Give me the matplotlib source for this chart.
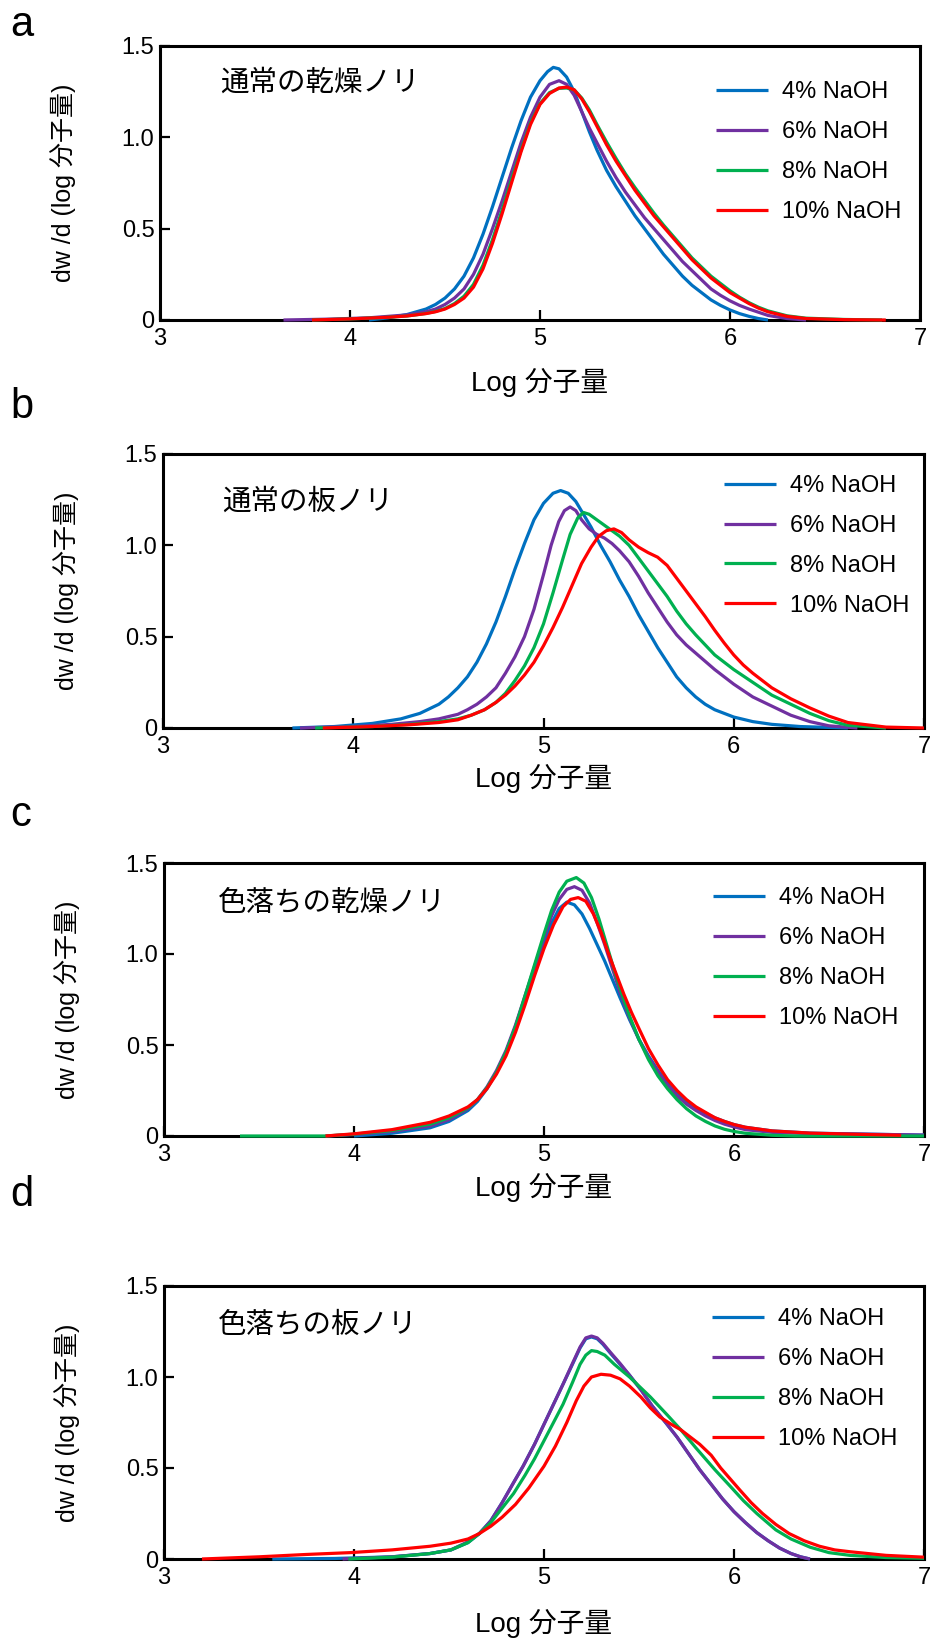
import matplotlib
matplotlib.use("Agg")
import matplotlib.pyplot as plt

plt.rcParams['font.family'] = ['Liberation Sans', 'Noto Sans CJK JP']

# ---- data (x = Log molecular weight, y = dw/d(log M)) ----
labels = ["4% NaOH", "6% NaOH", "8% NaOH", "10% NaOH"]
colors = ["#0070C0", "#7030A0", "#00B050", "#FF0000"]
panel_letters = ["a", "b", "c", "d"]
panel_titles = ["通常の乾燥ノリ", "通常の板ノリ", "色落ちの乾燥ノリ", "色落ちの板ノリ"]
x_ticks = [3, 4, 5, 6, 7]
y_ticks = [0, 0.5, 1.0, 1.5]
y_tick_labels = ["0", "0.5", "1.0", "1.5"]

# panel a
a_x4 = [4.10, 4.20, 4.30, 4.40, 4.45, 4.50, 4.55, 4.60, 4.65, 4.70, 4.75, 4.80, 4.85, 4.90, 4.95, 5.00, 5.04, 5.07, 5.10, 5.14, 5.18, 5.22, 5.26, 5.30, 5.35, 5.40, 5.45, 5.50, 5.55, 5.60, 5.65, 5.70, 5.75, 5.80, 5.85, 5.90, 5.95, 6.00, 6.05, 6.10, 6.15, 6.20]
a_y4 = [0.00, 0.012, 0.03, 0.06, 0.085, 0.12, 0.17, 0.24, 0.34, 0.47, 0.62, 0.78, 0.94, 1.09, 1.22, 1.31, 1.36, 1.383, 1.375, 1.33, 1.25, 1.14, 1.03, 0.93, 0.82, 0.73, 0.65, 0.57, 0.50, 0.43, 0.36, 0.30, 0.24, 0.19, 0.15, 0.11, 0.08, 0.055, 0.035, 0.02, 0.008, 0.00]
a_x6 = [3.65, 3.90, 4.10, 4.30, 4.40, 4.45, 4.50, 4.55, 4.60, 4.65, 4.70, 4.75, 4.80, 4.85, 4.90, 4.95, 5.00, 5.05, 5.10, 5.14, 5.18, 5.22, 5.26, 5.30, 5.35, 5.40, 5.45, 5.50, 5.55, 5.60, 5.65, 5.70, 5.75, 5.80, 5.85, 5.90, 5.95, 6.00, 6.05, 6.10, 6.20, 6.30, 6.40]
a_y6 = [0.00, 0.005, 0.012, 0.028, 0.045, 0.06, 0.085, 0.12, 0.17, 0.25, 0.36, 0.50, 0.65, 0.81, 0.97, 1.11, 1.22, 1.29, 1.31, 1.29, 1.23, 1.14, 1.05, 0.97, 0.87, 0.78, 0.70, 0.63, 0.56, 0.50, 0.44, 0.38, 0.32, 0.27, 0.22, 0.17, 0.135, 0.105, 0.08, 0.06, 0.025, 0.008, 0.00]
a_x8 = [3.80, 4.00, 4.20, 4.30, 4.40, 4.45, 4.50, 4.55, 4.60, 4.65, 4.70, 4.75, 4.80, 4.85, 4.90, 4.95, 5.00, 5.05, 5.10, 5.14, 5.18, 5.22, 5.26, 5.30, 5.35, 5.40, 5.45, 5.50, 5.55, 5.60, 5.65, 5.70, 5.75, 5.80, 5.85, 5.90, 5.95, 6.00, 6.05, 6.10, 6.15, 6.20, 6.30, 6.40, 6.60, 6.80]
a_y8 = [0.00, 0.006, 0.015, 0.022, 0.036, 0.047, 0.063, 0.09, 0.13, 0.195, 0.30, 0.44, 0.60, 0.77, 0.93, 1.08, 1.185, 1.245, 1.268, 1.27, 1.26, 1.215, 1.15, 1.07, 0.975, 0.885, 0.80, 0.725, 0.655, 0.585, 0.52, 0.46, 0.40, 0.34, 0.29, 0.24, 0.20, 0.16, 0.125, 0.095, 0.07, 0.05, 0.023, 0.01, 0.003, 0.00]
a_x10 = [3.80, 4.00, 4.20, 4.30, 4.40, 4.45, 4.50, 4.55, 4.60, 4.65, 4.70, 4.75, 4.80, 4.85, 4.90, 4.95, 5.00, 5.05, 5.10, 5.14, 5.18, 5.22, 5.26, 5.30, 5.35, 5.40, 5.45, 5.50, 5.55, 5.60, 5.65, 5.70, 5.75, 5.80, 5.85, 5.90, 5.95, 6.00, 6.05, 6.10, 6.15, 6.20, 6.30, 6.40, 6.60, 6.82]
a_y10 = [0.00, 0.006, 0.015, 0.022, 0.035, 0.045, 0.06, 0.085, 0.12, 0.18, 0.28, 0.42, 0.58, 0.75, 0.92, 1.07, 1.18, 1.24, 1.27, 1.275, 1.26, 1.21, 1.14, 1.06, 0.96, 0.87, 0.79, 0.71, 0.64, 0.57, 0.51, 0.45, 0.39, 0.33, 0.28, 0.23, 0.19, 0.15, 0.12, 0.09, 0.065, 0.045, 0.02, 0.008, 0.002, 0.00]

# panel b
b_x4 = [3.68, 3.90, 4.10, 4.25, 4.35, 4.45, 4.50, 4.55, 4.60, 4.65, 4.70, 4.75, 4.80, 4.85, 4.90, 4.95, 5.00, 5.05, 5.09, 5.13, 5.17, 5.21, 5.25, 5.30, 5.35, 5.40, 5.45, 5.50, 5.55, 5.60, 5.65, 5.70, 5.75, 5.80, 5.85, 5.90, 6.00, 6.10, 6.20, 6.35, 6.60]
b_y4 = [0.00, 0.008, 0.025, 0.05, 0.08, 0.13, 0.17, 0.22, 0.28, 0.36, 0.46, 0.58, 0.72, 0.87, 1.01, 1.14, 1.23, 1.285, 1.30, 1.285, 1.24, 1.17, 1.10, 1.00, 0.91, 0.81, 0.72, 0.62, 0.53, 0.44, 0.36, 0.28, 0.22, 0.17, 0.13, 0.10, 0.06, 0.035, 0.02, 0.008, 0.00]
b_x6 = [3.72, 4.00, 4.20, 4.35, 4.45, 4.55, 4.60, 4.65, 4.70, 4.75, 4.80, 4.85, 4.90, 4.95, 5.00, 5.04, 5.08, 5.11, 5.14, 5.17, 5.20, 5.24, 5.28, 5.32, 5.36, 5.40, 5.45, 5.50, 5.55, 5.60, 5.65, 5.70, 5.75, 5.80, 5.90, 6.00, 6.10, 6.20, 6.30, 6.40, 6.50, 6.65]
b_y6 = [0.00, 0.008, 0.02, 0.035, 0.05, 0.075, 0.10, 0.13, 0.17, 0.22, 0.30, 0.39, 0.50, 0.65, 0.84, 1.00, 1.13, 1.19, 1.21, 1.19, 1.14, 1.09, 1.06, 1.04, 1.01, 0.97, 0.91, 0.83, 0.74, 0.66, 0.58, 0.51, 0.455, 0.41, 0.32, 0.24, 0.17, 0.12, 0.07, 0.035, 0.012, 0.00]
b_x8 = [3.80, 4.10, 4.30, 4.45, 4.55, 4.62, 4.69, 4.75, 4.80, 4.85, 4.90, 4.95, 5.00, 5.05, 5.10, 5.14, 5.18, 5.21, 5.24, 5.28, 5.32, 5.36, 5.40, 5.45, 5.50, 5.55, 5.60, 5.65, 5.70, 5.75, 5.80, 5.85, 5.90, 6.00, 6.10, 6.20, 6.30, 6.40, 6.50, 6.60, 6.80]
b_y8 = [0.00, 0.008, 0.02, 0.035, 0.05, 0.07, 0.10, 0.14, 0.19, 0.26, 0.34, 0.44, 0.57, 0.74, 0.92, 1.06, 1.15, 1.18, 1.17, 1.14, 1.11, 1.08, 1.05, 1.00, 0.93, 0.86, 0.79, 0.72, 0.64, 0.57, 0.51, 0.455, 0.40, 0.32, 0.25, 0.18, 0.13, 0.08, 0.04, 0.015, 0.00]
b_x10 = [3.84, 4.10, 4.30, 4.45, 4.55, 4.62, 4.69, 4.75, 4.80, 4.85, 4.90, 4.95, 5.00, 5.05, 5.10, 5.15, 5.20, 5.25, 5.29, 5.33, 5.37, 5.41, 5.45, 5.50, 5.55, 5.60, 5.65, 5.70, 5.75, 5.80, 5.85, 5.90, 5.95, 6.00, 6.05, 6.10, 6.20, 6.30, 6.40, 6.50, 6.60, 6.80, 7.00]
b_y10 = [0.00, 0.008, 0.018, 0.03, 0.045, 0.07, 0.10, 0.14, 0.18, 0.23, 0.29, 0.36, 0.45, 0.55, 0.66, 0.78, 0.90, 0.99, 1.05, 1.08, 1.09, 1.07, 1.03, 0.99, 0.96, 0.935, 0.89, 0.82, 0.75, 0.68, 0.61, 0.535, 0.465, 0.40, 0.345, 0.30, 0.22, 0.16, 0.11, 0.065, 0.03, 0.005, 0.00]

# panel c
c_x4 = [4.00, 4.20, 4.40, 4.50, 4.60, 4.65, 4.70, 4.75, 4.80, 4.85, 4.90, 4.95, 5.00, 5.04, 5.08, 5.12, 5.16, 5.20, 5.24, 5.28, 5.32, 5.36, 5.40, 5.45, 5.50, 5.55, 5.60, 5.65, 5.70, 5.75, 5.80, 5.85, 5.90, 5.95, 6.00, 6.06, 6.20, 6.40, 6.70, 7.00]
c_y4 = [0.00, 0.015, 0.045, 0.08, 0.14, 0.19, 0.26, 0.35, 0.46, 0.60, 0.76, 0.91, 1.06, 1.17, 1.25, 1.285, 1.27, 1.22, 1.14, 1.05, 0.96, 0.86, 0.76, 0.64, 0.53, 0.44, 0.36, 0.29, 0.235, 0.19, 0.155, 0.125, 0.10, 0.08, 0.063, 0.048, 0.028, 0.016, 0.01, 0.005]
c_x6 = [3.85, 4.00, 4.20, 4.40, 4.50, 4.60, 4.65, 4.70, 4.75, 4.80, 4.85, 4.90, 4.95, 5.00, 5.04, 5.08, 5.12, 5.16, 5.20, 5.24, 5.28, 5.32, 5.36, 5.40, 5.45, 5.50, 5.55, 5.60, 5.65, 5.70, 5.75, 5.80, 5.85, 5.90, 5.95, 6.00, 6.06, 6.20, 6.40, 6.70, 7.00]
c_y6 = [0.00, 0.008, 0.025, 0.055, 0.09, 0.15, 0.20, 0.27, 0.36, 0.47, 0.61, 0.77, 0.93, 1.09, 1.21, 1.30, 1.355, 1.37, 1.35, 1.28, 1.17, 1.05, 0.92, 0.79, 0.65, 0.53, 0.43, 0.35, 0.28, 0.22, 0.175, 0.14, 0.11, 0.085, 0.065, 0.05, 0.035, 0.02, 0.013, 0.01, 0.005]
c_x8 = [3.40, 3.85, 4.00, 4.20, 4.40, 4.50, 4.60, 4.65, 4.70, 4.75, 4.80, 4.85, 4.90, 4.95, 5.00, 5.04, 5.08, 5.12, 5.17, 5.21, 5.25, 5.29, 5.33, 5.37, 5.41, 5.45, 5.50, 5.55, 5.60, 5.65, 5.70, 5.75, 5.80, 5.85, 5.90, 5.95, 6.00, 6.06, 6.20, 6.32, 7.00]
c_y8 = [0.00, 0.00, 0.01, 0.03, 0.065, 0.10, 0.155, 0.20, 0.265, 0.35, 0.46, 0.60, 0.77, 0.94, 1.11, 1.24, 1.34, 1.40, 1.42, 1.39, 1.31, 1.19, 1.05, 0.91, 0.78, 0.66, 0.53, 0.42, 0.33, 0.26, 0.20, 0.15, 0.11, 0.08, 0.055, 0.037, 0.025, 0.015, 0.004, 0.00, 0.00]
c_x10 = [3.85, 4.00, 4.20, 4.40, 4.50, 4.60, 4.65, 4.70, 4.75, 4.80, 4.85, 4.90, 4.95, 5.00, 5.05, 5.10, 5.14, 5.18, 5.22, 5.26, 5.30, 5.34, 5.38, 5.42, 5.46, 5.50, 5.55, 5.60, 5.65, 5.70, 5.75, 5.80, 5.85, 5.90, 5.95, 6.00, 6.06, 6.20, 6.40, 6.70, 6.88]
c_y10 = [0.00, 0.012, 0.035, 0.075, 0.11, 0.16, 0.20, 0.26, 0.34, 0.44, 0.57, 0.72, 0.88, 1.03, 1.16, 1.26, 1.30, 1.31, 1.29, 1.22, 1.12, 1.00, 0.89, 0.78, 0.68, 0.59, 0.48, 0.39, 0.31, 0.25, 0.20, 0.16, 0.13, 0.10, 0.08, 0.063, 0.048, 0.028, 0.016, 0.008, 0.004]

# panel d
d_x4 = [3.57, 3.90, 4.20, 4.40, 4.51, 4.60, 4.66, 4.72, 4.78, 4.84, 4.89, 4.95, 5.00, 5.05, 5.10, 5.15, 5.19, 5.22, 5.25, 5.28, 5.31, 5.35, 5.40, 5.45, 5.51, 5.57, 5.64, 5.70, 5.76, 5.82, 5.88, 5.94, 6.00, 6.06, 6.12, 6.18, 6.24, 6.30, 6.35, 6.40]
d_y4 = [0.00, 0.003, 0.012, 0.03, 0.05, 0.09, 0.14, 0.21, 0.31, 0.42, 0.51, 0.63, 0.74, 0.85, 0.96, 1.07, 1.16, 1.21, 1.22, 1.21, 1.18, 1.13, 1.07, 1.01, 0.93, 0.84, 0.75, 0.67, 0.58, 0.49, 0.41, 0.33, 0.26, 0.20, 0.145, 0.10, 0.06, 0.03, 0.012, 0.00]
d_x6 = [3.94, 4.20, 4.40, 4.51, 4.60, 4.66, 4.72, 4.78, 4.84, 4.89, 4.95, 5.00, 5.05, 5.10, 5.15, 5.19, 5.22, 5.25, 5.28, 5.31, 5.35, 5.40, 5.45, 5.51, 5.57, 5.64, 5.70, 5.76, 5.82, 5.88, 5.94, 6.00, 6.06, 6.12, 6.18, 6.24, 6.30, 6.35, 6.40]
d_y6 = [0.00, 0.012, 0.03, 0.05, 0.095, 0.14, 0.21, 0.31, 0.42, 0.51, 0.63, 0.74, 0.85, 0.96, 1.075, 1.165, 1.215, 1.225, 1.215, 1.185, 1.135, 1.075, 1.01, 0.93, 0.84, 0.75, 0.67, 0.58, 0.49, 0.41, 0.33, 0.26, 0.20, 0.145, 0.10, 0.06, 0.03, 0.012, 0.00]
d_x8 = [3.97, 4.20, 4.40, 4.51, 4.60, 4.66, 4.72, 4.78, 4.84, 4.90, 4.95, 5.00, 5.05, 5.10, 5.15, 5.19, 5.22, 5.25, 5.28, 5.32, 5.37, 5.45, 5.56, 5.65, 5.72, 5.80, 5.90, 5.98, 6.05, 6.12, 6.22, 6.30, 6.40, 6.50, 6.61, 6.80, 7.00]
d_y8 = [0.00, 0.01, 0.03, 0.05, 0.09, 0.14, 0.20, 0.28, 0.36, 0.46, 0.55, 0.65, 0.75, 0.85, 0.97, 1.07, 1.12, 1.145, 1.14, 1.12, 1.07, 1.00, 0.89, 0.79, 0.71, 0.61, 0.49, 0.40, 0.32, 0.25, 0.16, 0.11, 0.065, 0.035, 0.02, 0.008, 0.004]
d_x10 = [3.20, 3.50, 3.75, 3.98, 4.20, 4.40, 4.51, 4.60, 4.66, 4.72, 4.78, 4.85, 4.92, 5.00, 5.06, 5.12, 5.17, 5.21, 5.25, 5.30, 5.35, 5.40, 5.45, 5.51, 5.56, 5.61, 5.67, 5.72, 5.77, 5.82, 5.88, 5.93, 5.98, 6.03, 6.09, 6.15, 6.22, 6.29, 6.37, 6.45, 6.53, 6.61, 6.80, 7.00]
d_y10 = [0.00, 0.012, 0.025, 0.035, 0.05, 0.07, 0.087, 0.11, 0.14, 0.18, 0.23, 0.30, 0.39, 0.51, 0.62, 0.75, 0.87, 0.95, 1.00, 1.015, 1.01, 0.99, 0.95, 0.89, 0.83, 0.78, 0.74, 0.71, 0.67, 0.63, 0.57, 0.50, 0.44, 0.38, 0.31, 0.25, 0.19, 0.14, 0.10, 0.07, 0.05, 0.04, 0.02, 0.01]

series = [
    [(a_x4, a_y4), (a_x6, a_y6), (a_x8, a_y8), (a_x10, a_y10)],
    [(b_x4, b_y4), (b_x6, b_y6), (b_x8, b_y8), (b_x10, b_y10)],
    [(c_x4, c_y4), (c_x6, c_y6), (c_x8, c_y8), (c_x10, c_y10)],
    [(d_x4, d_y4), (d_x6, d_y6), (d_x8, d_y8), (d_x10, d_y10)],
]

# ---- layout (pixel boxes of the reference, 933 x 1639) ----
W, H = 933, 1639
boxes = [(160, 46, 920, 320), (163, 454, 924, 728), (164, 863, 924, 1136), (164, 1286, 924, 1559)]
letter_y = [36, 418, 826, 1206]
title_pos = [(0.079, 0.865), (0.078, 0.825), (0.071, 0.854), (0.071, 0.857)]
legend_pos = [(0.732, 0.872), (0.737, 0.924), (0.722, 0.912), (0.721, 0.918)]
xlabel_off = [62, 50, 51, 64]

fig = plt.figure(figsize=(W / 100, H / 100), dpi=100)

for i in range(4):
    l, t, r, b = boxes[i]
    ax = fig.add_axes([l / W, 1 - b / H, (r - l) / W, (b - t) / H])

    for (xs, ys), col, lab in zip(series[i], colors, labels):
        ax.plot(xs, ys, color=col, linewidth=2.3, label=lab,
                zorder=3, clip_on=False, solid_capstyle='butt')

    ax.set_xlim(3, 7)
    ax.set_ylim(0, 1.5)
    ax.set_xticks(x_ticks)
    ax.set_yticks(y_ticks)
    ax.set_yticklabels(y_tick_labels)
    ax.tick_params(direction='in', length=7, width=1.6, labelsize=17)
    ax.tick_params(axis='x', pad=6)
    ax.tick_params(axis='y', pad=4)
    for sp in ax.spines.values():
        sp.set_linewidth(2.2)

    ax.set_ylabel("dw /d (log 分子量)", fontsize=18)
    ax.yaxis.set_label_coords(-0.110, 0.5)

    fig.text(0.5 * (l + r) / W, 1 - (b + xlabel_off[i]) / H, "Log 分子量",
             fontsize=20, ha='center', va='center')

    ax.text(title_pos[i][0], title_pos[i][1], panel_titles[i], transform=ax.transAxes,
            fontsize=20.5, ha='left', va='center', family=['Noto Sans CJK JP'])

    ax.legend(loc='upper left', bbox_to_anchor=legend_pos[i], frameon=False,
              borderpad=0, borderaxespad=0, handlelength=2.2, handletextpad=0.6,
              labelspacing=0.76, fontsize=17)

    fig.text(10 / W, 1 - letter_y[i] / H, panel_letters[i], fontsize=30,
             ha='left', va='baseline')

fig.savefig("out.png", dpi=100)
